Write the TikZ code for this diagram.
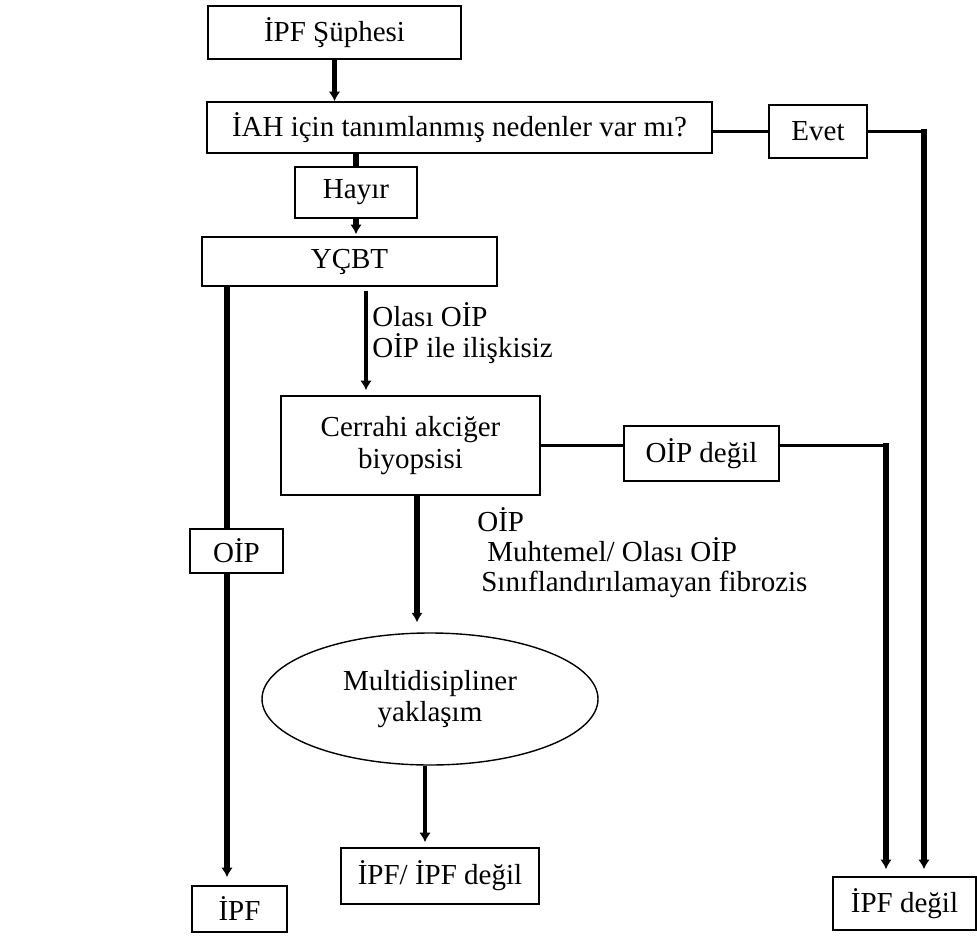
\documentclass[tikz,border=0pt]{standalone}
\usepackage{fontspec}
\setmainfont{Liberation Serif}
\usepackage{tikz}
\usetikzlibrary{arrows.meta}
\usetikzlibrary{shapes.geometric,calc}
\tikzset{
  flowbox/.style={draw,line width=0.9pt,inner sep=0pt,align=center,fill=white},
  flowarrow/.style={line width=2.9pt,-{Latex[length=1.9mm,width=2.3mm]}},
  flowline/.style={line width=2.9pt},
  joinline/.style={line width=1.5pt},
  flowlabel/.style={anchor=west,align=left,inner sep=0pt}
}

\begin{document}
\begin{tikzpicture}[x=0.2mm,y=-0.2mm,font=\fontsize{16.5}{18}\selectfont]
    \useasboundingbox (0,0) rectangle (977,938);
    % columns of the vertical connectors
    \coordinate (colA) at (227,0);
    \coordinate (colB) at (366,0);
    \coordinate (colC) at (417,0);
    \coordinate (colD) at (425,0);
    \coordinate (colE) at (886,0);
    \coordinate (colF) at (924,0);
    % top of the chart
    \node[flowbox,minimum width=5.06cm,minimum height=1.06cm] (sup) at (334.5,32.5) {İPF Şüphesi};
    \node[flowbox,minimum width=10.1cm,minimum height=1.02cm] (iah) at (459.5,127.5)
      {İAH için tanımlanmış nedenler var mı?};
    \node[flowbox,minimum width=1.96cm,minimum height=1.06cm] (evet) at (818,131.5) {Evet};
    \node[flowbox,minimum width=2.44cm,minimum height=1.02cm] (hayir) at (356,192.5) {Hayır};
    \node[flowbox,minimum width=5.9cm,minimum height=0.98cm] (ycbt) at (349.5,261.5) {YÇBT};
    % biopsy branch
    \node[flowbox,minimum width=5.18cm,minimum height=1.98cm] (cab) at (410.5,445.5)
      {Cerrahi akciğer\\biyopsisi};
    \node[flowbox,minimum width=3.1cm,minimum height=1.1cm] (oipdegil) at (701.5,453.5) {OİP değil};
    \node[flowbox,minimum width=1.86cm,minimum height=0.88cm] (oip) at (236.5,551) {OİP};
    \node[flowbox,ellipse,line width=0.8pt,minimum width=6.72cm,minimum height=2.64cm] (mdt)
      at (430,699) {Multidisipliner\\yaklaşım};
    % outcomes
    \node[flowbox,minimum width=1.9cm,minimum height=0.92cm] (ipf) at (239.5,909) {İPF};
    \node[flowbox,minimum width=3.96cm,minimum height=1.12cm] (sonuc) at (440,876) {İPF/ İPF değil};
    \node[flowbox,minimum width=2.86cm,minimum height=1.06cm] (ipfdegil) at (904.5,903.5) {İPF değil};
    % connectors
    \draw[flowarrow] (sup) -- (sup |- iah.north);
    \draw[flowline] (iah.south -| hayir) -- (hayir);
    \draw[flowarrow,shorten >=0.4mm] (hayir) -- (hayir |- ycbt.north);
    \draw[joinline] (evet.west -| iah.east) -- (evet.west);
    \draw[joinline] (evet.east) -- (evet.east -| colF);
    \draw[flowarrow,line cap=rect,shorten >=1.4mm] (evet.east -| colF) -- (ipfdegil.north -| colF);
    \draw[flowline] (ycbt.south -| colA) -- (oip.north -| colA);
    \draw[flowarrow,shorten >=1.6mm] (oip.south -| colA) -- (ipf.north -| colA);
    \draw[flowarrow,line width=2.2pt,shorten <=0.8mm,shorten >=1mm] (ycbt.south -| colB) -- (cab.north -| colB);
    \draw[joinline] (cab.east) -- (cab.east -| oipdegil.west);
    \draw[joinline] (cab.east -| oipdegil.east) -- (cab.east -| colE);
    \draw[flowarrow,line cap=rect,shorten >=1.4mm] (cab.east -| colE) -- (ipfdegil.north -| colE);
    \draw[flowarrow,shorten >=2mm] (cab.south -| colC) -- (mdt.north -| colC);
    \draw[flowarrow,line width=2.3pt,shorten >=1mm] (mdt.south -| colD) -- (sonuc.north -| colD);
    % branch labels
    \node[flowlabel] (olasi) at (372,333) {Olası OİP\\OİP ile ilişkisiz};
    \node[flowlabel,font=\fontsize{16.5}{17}\selectfont] (bulgu) at (477,553)
      {OİP\\\hspace{2mm}Muhtemel/ Olası OİP\\\hspace{0.8mm}Sınıflandırılamayan fibrozis};
\end{tikzpicture}
\end{document}
